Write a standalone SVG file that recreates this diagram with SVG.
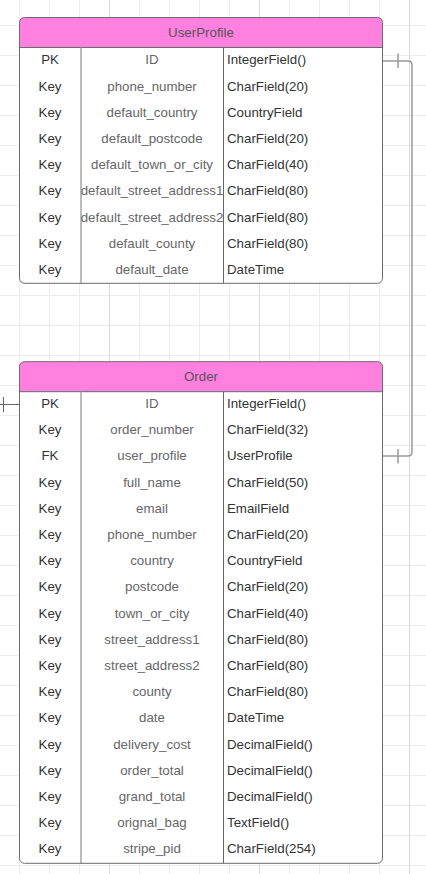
<svg xmlns="http://www.w3.org/2000/svg" width="426" height="874" viewBox="0 0 426 874">
<style>
text{font-family:"Liberation Sans",Arial,sans-serif;font-size:13.3px}
.k{fill:#333;text-anchor:middle}
.n{fill:#666;text-anchor:middle}
.t{fill:#333}
.h{fill:#555;text-anchor:middle}
.box{fill:none;stroke:#6b6b6b;stroke-width:1}
.hd{fill:#ff80df}
.d1{stroke:#a6a6a6;stroke-width:1.5}
.d2{stroke:#666;stroke-width:1}
.hl{stroke:#6b6b6b;stroke-width:1}
.conn{fill:none;stroke:#9a9a9a;stroke-width:1.5}
.conn2{fill:none;stroke:#666;stroke-width:1}
</style>
<rect width="426" height="874" fill="#fff"/>
<g id="grid" fill="none">
<path stroke="#ececec" stroke-width="1" d="M19.5,0V874M49.5,0V874M79.5,0V874M139.5,0V874M169.5,0V874M199.5,0V874M229.5,0V874M289.5,0V874M319.5,0V874M349.5,0V874M379.5,0V874M0,25.5H426M0,55.5H426M0,85.5H426M0,115.5H426M0,145.5H426M0,175.5H426M0,205.5H426M0,235.5H426M0,265.5H426M0,295.5H426M0,325.5H426M0,355.5H426M0,385.5H426M0,415.5H426M0,445.5H426M0,475.5H426M0,505.5H426M0,535.5H426M0,565.5H426M0,595.5H426M0,625.5H426M0,655.5H426M0,685.5H426M0,715.5H426M0,745.5H426M0,775.5H426M0,805.5H426M0,835.5H426M0,865.5H426"/>
<path stroke="#dadada" stroke-width="1" d="M109.5,0V874M259.5,0V874M409.5,0V874"/>
</g>
<g id="connectors">
<path class="conn" d="M382.5,61H408Q412,61 412,65V452Q412,456 408,456H382.5"/>
<path class="conn" d="M398,53.5V68M398,449V463.5"/>
<path class="conn2" d="M0,404.5H19.5M3.5,397V412"/>
</g>
<g id="UserProfile">
<rect x="19.5" y="17.5" width="363" height="265.8" rx="5" fill="#fff"/>
<path class="hd" d="M19.5,47.5V22.5Q19.5,17.5 24.5,17.5H377.5Q382.5,17.5 382.5,22.5V47.5Z"/>
<line class="hl" x1="19.5" y1="47.5" x2="382.5" y2="47.5"/>
<line class="d1" x1="81" y1="47.5" x2="81" y2="283.3"/>
<line class="d2" x1="223.5" y1="47.5" x2="223.5" y2="283.3"/>
<rect class="box" x="19.5" y="17.5" width="363" height="265.8" rx="5"/>
<text class="h" x="201" y="37">UserProfile</text>
<text class="k" x="50" y="64.3">PK</text><text class="n" x="152" y="64.3">ID</text><text class="t" x="227" y="64.3">IntegerField()</text>
<text class="k" x="50" y="90.5">Key</text><text class="n" x="152" y="90.5">phone_number</text><text class="t" x="227" y="90.5">CharField(20)</text>
<text class="k" x="50" y="116.7">Key</text><text class="n" x="152" y="116.7">default_country</text><text class="t" x="227" y="116.7">CountryField</text>
<text class="k" x="50" y="142.9">Key</text><text class="n" x="152" y="142.9">default_postcode</text><text class="t" x="227" y="142.9">CharField(20)</text>
<text class="k" x="50" y="169.1">Key</text><text class="n" x="152" y="169.1">default_town_or_city</text><text class="t" x="227" y="169.1">CharField(40)</text>
<text class="k" x="50" y="195.3">Key</text><text class="n" x="152" y="195.3">default_street_address1</text><text class="t" x="227" y="195.3">CharField(80)</text>
<text class="k" x="50" y="221.5">Key</text><text class="n" x="152" y="221.5">default_street_address2</text><text class="t" x="227" y="221.5">CharField(80)</text>
<text class="k" x="50" y="247.7">Key</text><text class="n" x="152" y="247.7">default_county</text><text class="t" x="227" y="247.7">CharField(80)</text>
<text class="k" x="50" y="273.9">Key</text><text class="n" x="152" y="273.9">default_date</text><text class="t" x="227" y="273.9">DateTime</text>
</g>
<g id="Order">
<rect x="19.5" y="361.7" width="363" height="501.6" rx="5" fill="#fff"/>
<path class="hd" d="M19.5,391.7V366.7Q19.5,361.7 24.5,361.7H377.5Q382.5,361.7 382.5,366.7V391.7Z"/>
<line class="hl" x1="19.5" y1="391.7" x2="382.5" y2="391.7"/>
<line class="d1" x1="81" y1="391.7" x2="81" y2="863.3"/>
<line class="d2" x1="223.5" y1="391.7" x2="223.5" y2="863.3"/>
<rect class="box" x="19.5" y="361.7" width="363" height="501.6" rx="5"/>
<text class="h" x="201" y="381">Order</text>
<text class="k" x="50" y="408">PK</text><text class="n" x="152" y="408">ID</text><text class="t" x="227" y="408">IntegerField()</text>
<text class="k" x="50" y="434.2">Key</text><text class="n" x="152" y="434.2">order_number</text><text class="t" x="227" y="434.2">CharField(32)</text>
<text class="k" x="50" y="460.4">FK</text><text class="n" x="152" y="460.4">user_profile</text><text class="t" x="227" y="460.4">UserProfile</text>
<text class="k" x="50" y="486.6">Key</text><text class="n" x="152" y="486.6">full_name</text><text class="t" x="227" y="486.6">CharField(50)</text>
<text class="k" x="50" y="512.8">Key</text><text class="n" x="152" y="512.8">email</text><text class="t" x="227" y="512.8">EmailField</text>
<text class="k" x="50" y="539">Key</text><text class="n" x="152" y="539">phone_number</text><text class="t" x="227" y="539">CharField(20)</text>
<text class="k" x="50" y="565.2">Key</text><text class="n" x="152" y="565.2">country</text><text class="t" x="227" y="565.2">CountryField</text>
<text class="k" x="50" y="591.4">Key</text><text class="n" x="152" y="591.4">postcode</text><text class="t" x="227" y="591.4">CharField(20)</text>
<text class="k" x="50" y="617.6">Key</text><text class="n" x="152" y="617.6">town_or_city</text><text class="t" x="227" y="617.6">CharField(40)</text>
<text class="k" x="50" y="643.8">Key</text><text class="n" x="152" y="643.8">street_address1</text><text class="t" x="227" y="643.8">CharField(80)</text>
<text class="k" x="50" y="670">Key</text><text class="n" x="152" y="670">street_address2</text><text class="t" x="227" y="670">CharField(80)</text>
<text class="k" x="50" y="696.2">Key</text><text class="n" x="152" y="696.2">county</text><text class="t" x="227" y="696.2">CharField(80)</text>
<text class="k" x="50" y="722.4">Key</text><text class="n" x="152" y="722.4">date</text><text class="t" x="227" y="722.4">DateTime</text>
<text class="k" x="50" y="748.6">Key</text><text class="n" x="152" y="748.6">delivery_cost</text><text class="t" x="227" y="748.6">DecimalField()</text>
<text class="k" x="50" y="774.8">Key</text><text class="n" x="152" y="774.8">order_total</text><text class="t" x="227" y="774.8">DecimalField()</text>
<text class="k" x="50" y="801">Key</text><text class="n" x="152" y="801">grand_total</text><text class="t" x="227" y="801">DecimalField()</text>
<text class="k" x="50" y="827.2">Key</text><text class="n" x="152" y="827.2">orignal_bag</text><text class="t" x="227" y="827.2">TextField()</text>
<text class="k" x="50" y="853.4">Key</text><text class="n" x="152" y="853.4">stripe_pid</text><text class="t" x="227" y="853.4">CharField(254)</text>
</g>
</svg>
